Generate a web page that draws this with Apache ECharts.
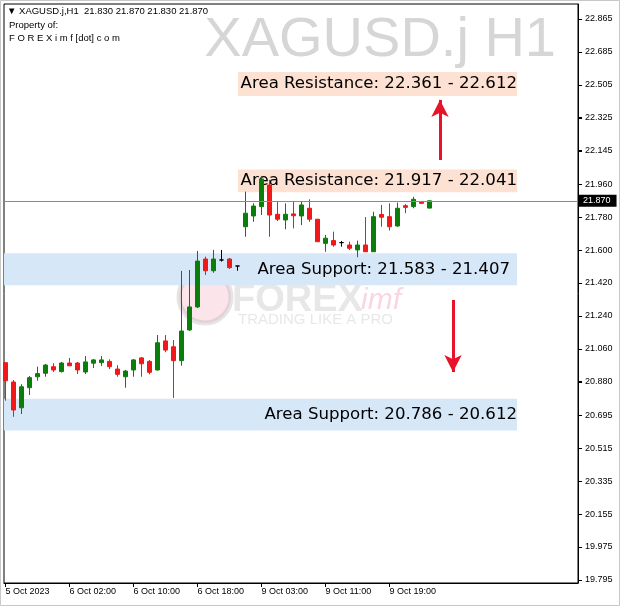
<!DOCTYPE html>
<html><head><meta charset="utf-8">
<script src="https://cdn.jsdelivr.net/npm/echarts@6/dist/echarts.min.js"></script>
<style>html,body{margin:0;padding:0;background:#fff}#c{width:620px;height:606px}</style>
</head><body><div id="c"></div>
<script>
const symbolName = 'XAGUSD.j';
const timeframe = 'H1';
const times = [
 '5 Oct 18:00','5 Oct 19:00','5 Oct 20:00','5 Oct 21:00','5 Oct 22:00','5 Oct 23:00',
 '6 Oct 00:00','6 Oct 01:00','6 Oct 02:00','6 Oct 03:00','6 Oct 04:00','6 Oct 05:00','6 Oct 06:00','6 Oct 07:00',
 '6 Oct 08:00','6 Oct 09:00','6 Oct 10:00','6 Oct 11:00','6 Oct 12:00','6 Oct 13:00','6 Oct 14:00','6 Oct 15:00',
 '6 Oct 16:00','6 Oct 17:00','6 Oct 18:00','6 Oct 19:00','6 Oct 20:00','6 Oct 21:00','6 Oct 22:00','6 Oct 23:00',
 '9 Oct 01:00','9 Oct 02:00','9 Oct 03:00','9 Oct 04:00','9 Oct 05:00','9 Oct 06:00','9 Oct 07:00','9 Oct 08:00',
 '9 Oct 09:00','9 Oct 10:00','9 Oct 11:00','9 Oct 12:00','9 Oct 13:00','9 Oct 14:00','9 Oct 15:00','9 Oct 16:00',
 '9 Oct 17:00','9 Oct 18:00','9 Oct 19:00','9 Oct 20:00','9 Oct 21:00','9 Oct 22:00','9 Oct 23:00','10 Oct 00:00'
];
const open = [20.984, 20.878, 20.737, 20.847, 20.907, 20.926, 20.962, 20.935, 20.982, 20.982, 20.933, 20.981, 20.984, 20.991, 20.949, 20.907, 20.944, 21.010, 20.991, 20.944, 21.103, 21.071, 20.995, 21.163, 21.289, 21.551, 21.487, 21.546, 21.551, 21.513, 21.728, 21.787, 21.838, 21.956, 21.796, 21.765, 21.798, 21.787, 21.829, 21.769, 21.637, 21.652, 21.641, 21.628, 21.601, 21.628, 21.591, 21.795, 21.783, 21.732, 21.843, 21.838, 21.865, 21.830];
const close = [20.885, 20.725, 20.852, 20.902, 20.924, 20.971, 20.944, 20.982, 20.967, 20.944, 20.988, 20.999, 20.999, 20.962, 20.920, 20.938, 20.999, 20.978, 20.931, 21.093, 21.053, 20.995, 21.157, 21.289, 21.540, 21.487, 21.551, 21.546, 21.504, 21.513, 21.802, 21.841, 21.989, 21.792, 21.769, 21.796, 21.788, 21.847, 21.769, 21.646, 21.665, 21.628, 21.641, 21.610, 21.628, 21.591, 21.783, 21.780, 21.728, 21.829, 21.834, 21.878, 21.856, 21.870];
const low = [20.776, 20.688, 20.703, 20.807, 20.885, 20.907, 20.933, 20.930, 20.965, 20.922, 20.922, 20.955, 20.966, 20.949, 20.907, 20.847, 20.907, 20.907, 20.920, 20.941, 21.041, 20.791, 20.967, 21.157, 21.283, 21.464, 21.476, 21.537, 21.497, 21.487, 21.673, 21.755, 21.792, 21.673, 21.759, 21.714, 21.719, 21.737, 21.755, 21.644, 21.591, 21.619, 21.619, 21.601, 21.561, 21.591, 21.591, 21.728, 21.707, 21.728, 21.802, 21.829, 21.855, 21.830];
const high = [20.984, 20.889, 20.866, 20.911, 20.962, 20.977, 20.981, 20.988, 21.010, 20.988, 21.020, 21.004, 21.020, 21.002, 20.970, 20.944, 21.004, 21.015, 20.999, 21.135, 21.135, 21.108, 21.486, 21.491, 21.595, 21.564, 21.601, 21.601, 21.557, 21.513, 21.920, 21.856, 22.006, 21.984, 21.865, 21.856, 21.865, 21.865, 21.878, 21.770, 21.683, 21.701, 21.650, 21.646, 21.652, 21.781, 21.810, 21.847, 21.856, 21.860, 21.852, 21.892, 21.866, 21.870];

const xTickIdx = [0, 8, 16, 24, 32, 40, 48];
const xTickLabels = ['5 Oct 2023', '6 Oct 02:00', '6 Oct 10:00', '6 Oct 18:00', '9 Oct 03:00', '9 Oct 11:00', '9 Oct 19:00'];
const yTickValues = [19.795, 19.975, 20.155, 20.335, 20.515, 20.695, 20.880, 21.060, 21.240, 21.420, 21.600, 21.780, 21.960, 22.145, 22.325, 22.505, 22.685, 22.865];

const zoneLabels = ['Area Resistance: 22.361 - 22.612', 'Area Resistance: 21.917 - 22.041', 'Area Support: 21.583 - 21.407', 'Area Support: 20.786 - 20.612'];
const zoneBottom = [22.444, 21.917, 21.407, 20.612];
const zoneTop = [22.575, 22.041, 21.583, 20.786];
const zoneKind = ['resistance', 'resistance', 'support', 'support'];

const arrowX = [54.31, 55.94];
const arrowFrom = [22.093, 21.327];
const arrowTo = [22.422, 20.933];

// ---- layout constants ----
const X_MIN = -0.1875, X_MAX = 71.5625;
const Y_MIN = 19.778, Y_MAX = 22.947;
const ZONE_RIGHT = 63.94, RES_LEFT = 29.06;

const last = open.length - 1;
const candles = open.map((o, i) => [i, o, close[i], low[i], high[i]]);
const fillColor = { resistance: '#fde2d3', support: '#d6e7f8' };
const labelDist = [0, 0, 7, 0];

const fillData = zoneLabels.map((t, i) => [
  { xAxis: zoneKind[i] === 'support' ? X_MIN : RES_LEFT, yAxis: zoneBottom[i], itemStyle: { color: fillColor[zoneKind[i]] } },
  { xAxis: ZONE_RIGHT, yAxis: zoneTop[i] }
]);
const labelData = zoneLabels.map((t, i) => [
  { name: t, xAxis: zoneKind[i] === 'support' ? X_MIN : RES_LEFT, yAxis: zoneBottom[i],
    label: { show: true, position: 'insideRight', distance: labelDist[i], formatter: t } },
  { xAxis: ZONE_RIGHT, yAxis: zoneTop[i] }
]);
const arrowData = arrowX.map((x, i) => [{ coord: [x, arrowFrom[i]] }, { coord: [x, arrowTo[i]] }]);

const txt = { fontFamily: 'Liberation Sans', fontSize: 9.5, fill: '#000' };
const header = '\u25BC ' + symbolName + ',' + timeframe + '  ' + [open[last], high[last], low[last], close[last]].map(v => v.toFixed(3)).join(' ');

const chart = echarts.init(document.getElementById('c'), null, { renderer: 'canvas' });
chart.setOption({
  animation: false,
  backgroundColor: '#ffffff',
  grid: { left: 4, right: 42, top: 4, bottom: 23, show: true, borderColor: '#000', borderWidth: 1, backgroundColor: 'transparent', outerBoundsMode: 'none', containLabel: false },
  xAxis: {
    type: 'value', min: X_MIN, max: X_MAX,
    splitLine: { show: false }, axisLine: { show: true, onZero: false, lineStyle: { color: '#000', width: 1 } },
    axisTick: { show: true, length: 4, lineStyle: { color: '#000', width: 1 }, customValues: xTickIdx },
    axisLabel: { customValues: xTickIdx, formatter: v => xTickLabels[xTickIdx.indexOf(Math.round(v))] || '', align: 'left', color: '#000', fontSize: 9, fontFamily: 'Liberation Sans', margin: 4 }
  },
  yAxis: {
    type: 'value', position: 'right', min: Y_MIN, max: Y_MAX,
    splitLine: { show: false }, axisLine: { show: true, onZero: false, lineStyle: { color: '#000', width: 1 } },
    axisTick: { show: true, inside: false, length: 4, lineStyle: { color: '#000', width: 1 }, customValues: yTickValues },
    axisLabel: { customValues: yTickValues, formatter: v => v.toFixed(3), color: '#000', fontSize: 9, fontFamily: 'Liberation Sans', margin: 7 }
  },
  graphic: [
    { type: 'text', z: 1, x: 556, y: 41, style: { text: symbolName + ' ' + timeframe, fontFamily: 'Liberation Sans', fontSize: 56, fill: '#d6d6d6', align: 'right', verticalAlign: 'middle' } },
    { type: 'circle', z: 1, shape: { cx: 205, cy: 297, r: 26 }, style: { fill: 'rgba(236,130,160,0.22)', stroke: 'rgba(170,170,170,0.3)', lineWidth: 5 } },
    { type: 'text', z: 1, x: 232, y: 301, style: { text: 'FOREX', fontFamily: 'Liberation Sans', fontWeight: 'bold', fontSize: 38, fill: 'rgba(175,175,175,0.3)', verticalAlign: 'middle' } },
    { type: 'text', z: 1, x: 361, y: 301, style: { text: 'imf', fontFamily: 'Liberation Sans', fontStyle: 'italic', fontSize: 30, fill: 'rgba(236,130,160,0.33)', verticalAlign: 'middle' } },
    { type: 'text', z: 1, x: 238, y: 320, style: { text: 'TRADING LIKE A PRO', fontFamily: 'Liberation Sans', fontSize: 15, fill: 'rgba(175,175,175,0.3)', verticalAlign: 'middle' } },
    { type: 'text', z: 6, x: 7, y: 11, style: Object.assign({ text: header, verticalAlign: 'middle' }, txt) },
    { type: 'text', z: 6, x: 9, y: 25, style: Object.assign({ text: 'Property of:', verticalAlign: 'middle' }, txt) },
    { type: 'text', z: 6, x: 9, y: 38, style: Object.assign({ text: 'F O R E X i m f [dot] c o m', verticalAlign: 'middle' }, txt) },
    { type: 'rect', z: 6, shape: { x: 0.5, y: 0.5, width: 619, height: 605 }, style: { fill: 'none', stroke: '#c8c8c8', lineWidth: 1 } }
  ],
  series: [
    { type: 'line', z: 0, data: [], silent: true,
      markArea: { silent: true, label: { show: false }, data: fillData } },
    { type: 'candlestick', z: 2, data: candles, encode: { x: 0, y: [1, 2, 3, 4] }, barWidth: 4,
      itemStyle: { color: '#0b7d0b', color0: '#f01818', borderColor: '#0b7d0b', borderColor0: '#f01818', borderColorDoji: '#000000', borderWidth: 1 },
      markLine: { silent: true, symbol: ['none', 'none'], animation: false,
        lineStyle: { color: '#8a8a8a', type: 'solid', width: 1 },
        label: { show: true, position: 'end', distance: 1, formatter: close[last].toFixed(3), backgroundColor: '#000', color: '#fff', padding: [2, 6, 1, 4], fontSize: 9, fontFamily: 'Liberation Sans' },
        data: [{ yAxis: close[last] }] } },
    { type: 'line', z: 3, data: [], silent: true,
      markArea: { silent: true, itemStyle: { color: 'rgba(0,0,0,0)' },
        label: { color: '#000', fontFamily: 'DejaVu Sans', fontSize: 16.6 }, data: labelData } },
    { type: 'line', z: 4, data: [], silent: true,
      markLine: { silent: true, symbol: ['none', 'arrow'], symbolSize: [13, 17],
        lineStyle: { color: '#e8132b', type: 'solid', width: 3 }, label: { show: false }, data: arrowData } },
    { type: 'custom', z: 5, silent: true, clip: false, data: yTickValues.map(v => [X_MAX, v]),
      renderItem: (params, api) => {
        const p = api.coord([api.value(0), api.value(1)]);
        const y = Math.round(p[1]) + 0.5;
        return { type: 'line', shape: { x1: p[0], y1: y, x2: p[0] + 4, y2: y }, style: { stroke: '#000', lineWidth: 1 } };
      } }
  ]
});
</script></body></html>
